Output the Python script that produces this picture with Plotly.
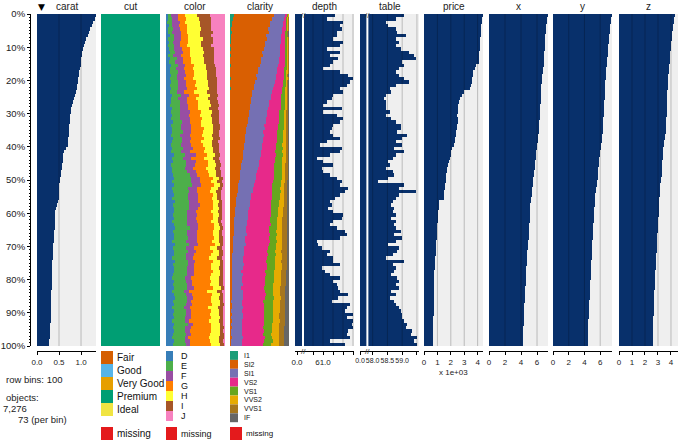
import plotly.graph_objects as go

# ---- data: 100 row bins of the diamonds subset, sorted on carat (descending) ----
carat = [
    1.33, 1.31, 1.27, 1.24, 1.21, 1.18, 1.15, 1.12, 1.09, 1.06, 1.04, 1.03, 1.02, 1.01, 1.00, 0.99, 0.97, 0.96, 0.95, 0.94,
    0.92, 0.91, 0.90, 0.88, 0.86, 0.84, 0.82, 0.80, 0.78, 0.77, 0.76, 0.75, 0.74, 0.73, 0.73, 0.72, 0.72, 0.71, 0.71, 0.70,
    0.65, 0.62, 0.60, 0.59, 0.58, 0.57, 0.56, 0.55, 0.54, 0.53, 0.52, 0.51, 0.51, 0.50, 0.50, 0.49, 0.48, 0.45, 0.43, 0.42,
    0.42, 0.41, 0.41, 0.40, 0.40, 0.39, 0.39, 0.38, 0.38, 0.37, 0.37, 0.36, 0.36, 0.36, 0.35, 0.35, 0.35, 0.34, 0.34, 0.33,
    0.33, 0.33, 0.33, 0.32, 0.32, 0.32, 0.32, 0.32, 0.31, 0.31, 0.31, 0.31, 0.31, 0.30, 0.30, 0.30, 0.30, 0.29, 0.28, 0.27,
]
depth = [
    61.60, 61.18, 62.02, 61.85, 61.93, 61.68, 61.68, 61.52, 62.02, 61.85, 61.18, 61.85, 61.35, 61.77, 61.52, 61.35, 61.02, 61.85, 62.27, 62.52,
    62.35, 62.18, 61.85, 62.02, 61.52, 61.43, 61.18, 61.02, 61.93, 61.02, 61.68, 62.02, 61.85, 61.52, 61.43, 61.35, 61.52, 61.85, 61.18, 60.85,
    61.93, 61.85, 61.35, 60.68, 61.02, 61.52, 60.93, 61.02, 61.35, 61.68, 61.93, 61.85, 62.27, 62.10, 61.85, 61.60, 61.35, 61.43, 61.27, 61.52,
    62.02, 61.93, 61.52, 61.35, 61.68, 62.10, 62.18, 61.85, 60.68, 60.77, 60.93, 61.35, 61.18, 61.52, 61.52, 61.85, 60.93, 61.10, 61.35, 61.85,
    61.52, 61.68, 61.77, 61.85, 62.27, 61.77, 61.43, 62.35, 62.18, 62.10, 62.52, 62.18, 62.52, 62.43, 62.52, 62.27, 62.18, 62.35, 61.35, 62.10,
]
table = [
    59.07, 58.79, 58.46, 58.51, 58.79, 58.84, 59.12, 58.79, 58.90, 58.79, 58.96, 59.23, 59.40, 59.46, 59.01, 59.07, 58.90, 58.79, 58.90, 59.07,
    59.23, 58.79, 58.57, 58.62, 58.46, 58.40, 58.46, 58.46, 58.46, 58.57, 58.46, 58.62, 58.79, 58.96, 58.96, 58.84, 59.18, 59.01, 58.79, 59.01,
    58.73, 59.07, 58.79, 58.68, 58.51, 58.57, 58.46, 58.68, 58.73, 58.51, 58.18, 59.07, 58.90, 59.46, 58.90, 58.79, 58.68, 58.62, 58.73, 58.68,
    58.79, 58.62, 58.79, 58.73, 58.79, 58.96, 58.73, 59.01, 58.79, 58.51, 58.90, 58.84, 58.68, 58.46, 59.07, 58.68, 58.79, 58.73, 58.62, 58.84,
    58.90, 58.79, 58.90, 58.62, 58.79, 58.57, 58.73, 58.79, 58.90, 58.96, 59.01, 59.01, 59.07, 59.18, 59.12, 59.34, 59.29, 59.51, 59.40, 59.51,
]
price = [
    4400, 4350, 4300, 4280, 4260, 4250, 4220, 4200, 4190, 4180, 4150, 4130, 4120, 4100, 4070, 3850, 3800, 3680, 3650, 3600,
    3560, 3500, 3430, 2950, 2800, 2700, 2620, 2550, 2520, 2500, 2480, 2550, 2500, 2450, 2440, 2400, 2350, 2300, 2280, 2250,
    2060, 2020, 1980, 1940, 1880, 1800, 1740, 1700, 1660, 1640, 1620, 1570, 1550, 1520, 1500, 1490, 1140, 1120, 1100, 1070,
    1050, 1030, 1010, 1000, 980, 970, 960, 950, 930, 920, 900, 890, 870, 850, 830, 810, 790, 770, 770, 760,
    760, 750, 750, 750, 740, 740, 730, 730, 720, 720, 710, 700, 700, 700, 690, 690, 680, 680, 670, 650,
]
x_mm = [
    7.33, 7.28, 7.22, 7.16, 7.12, 7.08, 7.05, 7.02, 7.00, 6.98, 6.95, 6.93, 6.90, 6.88, 6.87, 6.83, 6.75, 6.70, 6.65, 6.60,
    6.58, 6.55, 6.53, 6.50, 6.48, 6.46, 6.45, 6.43, 6.40, 6.38, 6.35, 6.33, 6.30, 6.28, 6.25, 6.20, 6.15, 6.12, 6.08, 6.05,
    5.96, 5.92, 5.88, 5.82, 5.78, 5.75, 5.70, 5.64, 5.58, 5.54, 5.50, 5.46, 5.40, 5.36, 5.33, 5.28, 5.20, 5.16, 5.14, 5.12,
    5.10, 5.08, 5.06, 5.04, 5.02, 5.00, 4.98, 4.94, 4.90, 4.86, 4.83, 4.80, 4.78, 4.75, 4.72, 4.70, 4.68, 4.66, 4.64, 4.62,
    4.60, 4.58, 4.55, 4.52, 4.50, 4.48, 4.46, 4.43, 4.40, 4.38, 4.37, 4.35, 4.33, 4.31, 4.29, 4.28, 4.27, 4.25, 4.22, 4.20,
]
y_mm = [
    7.46, 7.40, 7.35, 7.30, 7.25, 7.20, 7.16, 7.12, 7.08, 7.04, 7.00, 6.97, 6.94, 6.92, 6.90, 6.85, 6.80, 6.76, 6.72, 6.70,
    6.67, 6.64, 6.62, 6.60, 6.58, 6.56, 6.53, 6.50, 6.47, 6.44, 6.42, 6.40, 6.38, 6.36, 6.33, 6.30, 6.27, 6.24, 6.20, 6.15,
    6.05, 6.00, 5.95, 5.90, 5.87, 5.82, 5.78, 5.74, 5.70, 5.66, 5.58, 5.54, 5.50, 5.45, 5.40, 5.36, 5.33, 5.30, 5.27, 5.25,
    5.22, 5.19, 5.16, 5.14, 5.12, 5.10, 5.07, 5.04, 5.01, 4.98, 4.95, 4.93, 4.92, 4.90, 4.88, 4.86, 4.84, 4.82, 4.80, 4.78,
    4.76, 4.75, 4.73, 4.70, 4.68, 4.65, 4.62, 4.60, 4.58, 4.56, 4.54, 4.52, 4.50, 4.49, 4.48, 4.47, 4.46, 4.45, 4.43, 4.42,
]
z_mm = [
    4.31, 4.27, 4.22, 4.18, 4.14, 4.10, 4.07, 4.05, 4.03, 4.00, 3.98, 3.96, 3.94, 3.92, 3.90, 3.88, 3.85, 3.82, 3.80, 3.79,
    3.78, 3.76, 3.75, 3.73, 3.72, 3.71, 3.70, 3.69, 3.68, 3.67, 3.66, 3.65, 3.64, 3.63, 3.62, 3.60, 3.56, 3.52, 3.48, 3.45,
    3.41, 3.39, 3.37, 3.35, 3.33, 3.31, 3.30, 3.29, 3.28, 3.26, 3.21, 3.19, 3.17, 3.15, 3.13, 3.11, 3.08, 3.07, 3.06, 3.05,
    3.04, 3.03, 3.02, 3.00, 2.99, 2.97, 2.95, 2.93, 2.92, 2.90, 2.90, 2.89, 2.88, 2.87, 2.86, 2.84, 2.82, 2.80, 2.78, 2.77,
    2.76, 2.75, 2.74, 2.73, 2.72, 2.71, 2.70, 2.69, 2.68, 2.67, 2.66, 2.65, 2.65, 2.64, 2.64, 2.63, 2.62, 2.61, 2.60, 2.59,
]

# cut: every bin is Premium
cut_levels = ["Fair", "Good", "Very Good", "Premium", "Ideal"]
cut_premium = [
    100, 100, 100, 100, 100, 100, 100, 100, 100, 100, 100, 100, 100, 100, 100, 100, 100, 100, 100, 100,
    100, 100, 100, 100, 100, 100, 100, 100, 100, 100, 100, 100, 100, 100, 100, 100, 100, 100, 100, 100,
    100, 100, 100, 100, 100, 100, 100, 100, 100, 100, 100, 100, 100, 100, 100, 100, 100, 100, 100, 100,
    100, 100, 100, 100, 100, 100, 100, 100, 100, 100, 100, 100, 100, 100, 100, 100, 100, 100, 100, 100,
    100, 100, 100, 100, 100, 100, 100, 100, 100, 100, 100, 100, 100, 100, 100, 100, 100, 100, 100, 100,
]

# color: % per bin for D..J
color_levels = ["D", "E", "F", "G", "H", "I", "J"]
color_D = [3, 4, 2, 5, 3, 4, 6, 3, 5, 4, 5, 6, 4, 7, 5, 8, 6, 7, 9, 6,
           8, 7, 9, 6, 10, 8, 9, 7, 11, 9, 10, 8, 12, 9, 11, 10, 8, 12, 10, 9,
           11, 9, 13, 10, 12, 9, 11, 10, 12, 13, 11, 14, 10, 12, 13, 11, 15, 12, 14, 13,
           12, 14, 11, 13, 15, 12, 14, 13, 11, 15, 12, 14, 13, 11, 15, 12, 13, 14, 12, 11,
           13, 12, 14, 11, 13, 15, 12, 13, 11, 14, 12, 13, 11, 14, 12, 13, 12, 11, 13, 12]
color_E = [6, 7, 8, 6, 9, 7, 8, 10, 7, 9, 9, 10, 8, 11, 10, 12, 11, 13, 10, 12,
           12, 14, 11, 13, 15, 12, 14, 16, 13, 15, 14, 16, 15, 17, 14, 18, 16, 15, 17, 16,
           18, 17, 20, 19, 22, 24, 21, 25, 28, 30, 32, 30, 28, 27, 25, 26, 24, 27, 25, 23,
           24, 22, 25, 23, 26, 24, 22, 25, 23, 24, 22, 24, 21, 23, 22, 25, 23, 21, 24, 22,
           21, 23, 22, 20, 22, 21, 23, 22, 20, 21, 22, 20, 21, 23, 21, 20, 22, 21, 20, 22]
color_F = [12, 10, 13, 11, 12, 14, 11, 13, 12, 10, 13, 12, 14, 11, 13, 12, 14, 13, 15, 12,
           14, 13, 15, 12, 14, 16, 13, 15, 14, 16, 15, 17, 14, 16, 18, 15, 17, 16, 14, 17,
           16, 15, 17, 14, 16, 15, 14, 16, 13, 15, 14, 16, 15, 13, 16, 17, 15, 18, 16, 14,
           17, 15, 16, 18, 14, 16, 17, 15, 18, 16, 14, 12, 13, 11, 12, 10, 11, 13, 12, 10,
           10, 9, 11, 8, 10, 9, 8, 10, 9, 8, 8, 9, 7, 8, 9, 7, 8, 6, 8, 7]
color_G = [12, 13, 10, 14, 12, 11, 13, 12, 14, 13, 14, 12, 15, 13, 14, 16, 14, 15, 13, 16,
           17, 15, 18, 16, 17, 15, 18, 16, 17, 19, 18, 20, 19, 17, 21, 19, 20, 22, 18, 20,
           21, 23, 20, 22, 21, 23, 22, 21, 20, 22, 20, 22, 24, 23, 25, 24, 26, 23, 25, 27,
           26, 28, 25, 27, 26, 28, 27, 29, 26, 28, 27, 29, 30, 28, 31, 29, 30, 32, 29, 31,
           32, 30, 33, 31, 34, 32, 33, 35, 32, 34, 33, 35, 34, 32, 35, 36, 33, 35, 34, 36]
color_H = [20, 22, 24, 21, 23, 22, 20, 24, 21, 23, 22, 24, 21, 23, 22, 20, 23, 21, 22, 24,
           21, 22, 20, 23, 19, 21, 20, 22, 18, 19, 19, 17, 18, 20, 16, 18, 17, 15, 19, 16,
           14, 15, 13, 14, 12, 13, 15, 12, 11, 10, 10, 9, 11, 10, 8, 9, 10, 8, 9, 11,
           10, 9, 11, 8, 10, 9, 10, 8, 11, 9, 12, 11, 13, 14, 12, 15, 13, 12, 14, 15,
           14, 15, 13, 16, 14, 13, 15, 14, 16, 15, 15, 14, 16, 15, 14, 15, 16, 17, 15, 14]
color_I = [22, 21, 19, 20, 18, 21, 19, 17, 20, 18, 18, 17, 19, 16, 18, 15, 17, 16, 15, 16,
           15, 16, 14, 17, 13, 15, 14, 13, 15, 12, 13, 12, 11, 12, 11, 10, 12, 11, 10, 12,
           10, 11, 9, 10, 9, 8, 9, 10, 9, 8, 8, 6, 7, 8, 7, 6, 5, 7, 6, 7,
           6, 7, 5, 6, 5, 6, 5, 6, 7, 5, 8, 6, 7, 8, 6, 7, 6, 5, 7, 8,
           7, 8, 6, 9, 7, 8, 6, 7, 9, 8, 8, 7, 9, 6, 8, 7, 8, 9, 7, 8]
color_J = [25, 23, 24, 23, 23, 21, 23, 21, 21, 23, 19, 19, 19, 19, 18, 17, 15, 15, 16, 14,
           13, 13, 13, 13, 12, 13, 12, 11, 12, 10, 11, 10, 11, 9, 9, 10, 10, 9, 12, 10,
           10, 10, 8, 11, 8, 7, 8, 6, 7, 2, 5, 3, 5, 7, 6, 7, 5, 5, 5, 5,
           5, 5, 7, 5, 4, 5, 5, 4, 4, 3, 5, 4, 3, 5, 2, 2, 4, 3, 2, 3,
           3, 3, 1, 5, 2, 2, 3, 1, 3, 2, 2, 2, 2, 2, 1, 2, 1, 1, 3, 1]

# clarity: % per bin for I1..IF
clarity_levels = ["I1", "SI2", "SI1", "VS2", "VS1", "VVS2", "VVS1", "IF"]
clar_I1 = [7, 5, 4, 3, 2, 3, 1, 2, 1, 0, 1, 0, 1, 0, 0, 1, 0, 0, 0, 1,
           0, 0, 1, 0, 0, 0, 0, 0, 0, 0, 0, 0, 0, 0, 0, 0, 0, 0, 0, 0,
           0, 0, 0, 0, 0, 0, 0, 0, 0, 0, 0, 0, 0, 0, 0, 0, 0, 0, 0, 0,
           0, 0, 0, 0, 0, 0, 0, 0, 0, 0, 0, 0, 0, 0, 0, 0, 0, 0, 0, 0,
           0, 0, 0, 0, 0, 0, 0, 0, 0, 0, 0, 0, 0, 0, 0, 0, 0, 0, 0, 0]
clar_SI2 = [68, 66, 64, 65, 62, 63, 60, 61, 58, 59, 57, 55, 56, 53, 52, 50, 48, 47, 45, 44,
            43, 41, 40, 38, 37, 36, 35, 34, 33, 32, 31, 30, 29, 28, 27, 26, 25, 25, 24, 23,
            22, 21, 21, 20, 19, 18, 18, 17, 16, 16, 15, 14, 14, 13, 12, 11, 10, 10, 9, 8,
            8, 7, 7, 7, 6, 6, 6, 5, 5, 5, 5, 5, 4, 4, 4, 4, 4, 3, 4, 3,
            3, 3, 3, 4, 3, 3, 2, 3, 3, 2, 3, 2, 3, 2, 3, 2, 2, 3, 2, 2]
clar_SI1 = [18, 20, 22, 21, 24, 22, 25, 24, 27, 26, 27, 29, 28, 30, 31, 32, 33, 32, 34, 33,
            33, 34, 32, 33, 31, 32, 30, 31, 30, 29, 30, 29, 31, 28, 30, 29, 31, 28, 30, 29,
            30, 28, 29, 27, 28, 29, 27, 28, 28, 27, 27, 26, 25, 26, 24, 25, 23, 24, 22, 23,
            22, 23, 21, 22, 20, 21, 22, 19, 20, 21, 19, 18, 20, 17, 18, 19, 17, 16, 18, 17,
            17, 18, 16, 17, 19, 18, 17, 16, 18, 17, 18, 19, 17, 18, 16, 18, 17, 19, 18, 17]
clar_VS2 = [4, 5, 6, 6, 7, 6, 8, 7, 8, 9, 8, 9, 9, 10, 10, 11, 12, 12, 13, 13,
            14, 14, 16, 17, 18, 18, 19, 20, 21, 21, 21, 22, 21, 23, 22, 23, 22, 24, 23, 22,
            22, 23, 24, 24, 25, 26, 27, 28, 29, 30, 30, 31, 32, 33, 34, 35, 35, 36, 37, 38,
            38, 37, 38, 39, 38, 37, 38, 39, 40, 38, 39, 38, 39, 40, 38, 39, 40, 39, 38, 39,
            38, 37, 38, 36, 37, 38, 36, 37, 35, 36, 36, 35, 36, 37, 35, 36, 35, 36, 37, 35]
clar_VS1 = [2, 2, 2, 3, 3, 3, 3, 3, 3, 3, 4, 4, 4, 4, 4, 4, 5, 5, 5, 5,
            5, 6, 6, 6, 6, 7, 7, 7, 7, 8, 8, 8, 8, 9, 9, 9, 9, 9, 10, 10,
            11, 11, 11, 12, 12, 12, 12, 13, 13, 13, 14, 14, 14, 14, 14, 14, 13, 13, 12, 12,
            12, 11, 12, 11, 13, 12, 11, 12, 11, 12, 13, 14, 13, 14, 14, 13, 14, 15, 14, 14,
            14, 14, 15, 14, 13, 14, 15, 14, 14, 15, 14, 14, 15, 14, 15, 14, 14, 13, 14, 14]
clar_VVS2 = [1, 1, 1, 1, 1, 1, 1, 2, 2, 2, 2, 2, 2, 2, 2, 2, 2, 3, 2, 3,
             3, 3, 3, 3, 4, 3, 4, 4, 4, 4, 4, 5, 4, 5, 5, 5, 5, 5, 5, 6,
             5, 6, 5, 6, 6, 6, 6, 6, 6, 6, 6, 6, 7, 6, 7, 7, 8, 8, 8, 8,
             8, 9, 9, 9, 9, 9, 9, 10, 9, 9, 10, 10, 10, 11, 11, 11, 11, 11, 12, 12,
             12, 12, 11, 12, 11, 12, 12, 12, 12, 11, 11, 11, 11, 12, 11, 11, 12, 11, 11, 12]
clar_VVS1 = [0, 1, 1, 1, 1, 1, 1, 1, 1, 1, 1, 1, 1, 1, 1, 1, 1, 1, 1, 1,
             1, 1, 2, 2, 2, 2, 2, 2, 2, 3, 3, 3, 3, 3, 3, 4, 4, 4, 4, 4,
             4, 4, 4, 4, 4, 5, 5, 5, 5, 5, 5, 6, 6, 6, 6, 6, 7, 7, 7, 7,
             7, 8, 8, 8, 8, 9, 8, 8, 8, 9, 8, 9, 8, 8, 9, 8, 8, 9, 8, 9,
             8, 9, 9, 8, 9, 8, 9, 9, 9, 9, 9, 9, 8, 9, 9, 9, 9, 9, 8, 9]
clar_IF = [0, 0, 0, 0, 0, 1, 1, 0, 0, 0, 0, 0, 0, 0, 0, 0, 0, 0, 1, 0,
           1, 1, 1, 1, 1, 1, 1, 1, 1, 1, 1, 1, 1, 1, 1, 1, 1, 1, 1, 1,
           1, 1, 1, 1, 1, 1, 1, 1, 1, 1, 2, 2, 2, 2, 2, 2, 2, 2, 3, 3,
           3, 3, 3, 3, 3, 3, 3, 3, 3, 3, 4, 4, 4, 4, 4, 4, 4, 5, 5, 5,
           5, 5, 6, 6, 6, 6, 6, 6, 6, 6, 7, 7, 7, 7, 8, 8, 8, 8, 8, 8]

n_bins = 100
n_objects = 7276

# ---- styling ----
W, H = 680, 442
NAVY = "#08306B"
BG = "#EFEFEF"
GRID = "rgba(0,0,0,0.22)"
FONT = "Liberation Sans"
CUT_COLS = ["#D55E00", "#56B4E9", "#E69F00", "#009E73", "#F0E442"]
COLOR_COLS = ["#377EB8", "#4DAF4A", "#984EA3", "#FF7F00", "#FFFF33", "#A65628", "#F781BF"]
CLAR_COLS = ["#1B9E77", "#D95F02", "#7570B3", "#E7298A", "#66A61E", "#E6AB02", "#A6761D", "#666666"]
MISSING = "#E41A1C"

# panel positions in pixels
PANEL_LEFT = [37, 101, 166, 230, 295, 360, 424, 489, 553, 619]
PANEL_W = 59
TOP, BOTTOM, AXIS_Y = 14, 346, 351


def px(x):
    return x / W


def py(y):
    return 1 - y / H


row_pos = [i + 0.5 for i in range(n_bins)]
fig = go.Figure()
shapes, annotations = [], []
layout_axes = {}


def axis_ids(k):
    return ("x" if k == 0 else f"x{k + 1}"), ("xaxis" if k == 0 else f"xaxis{k + 1}")


# numeric columns: (panel, values, range, base, grid, tickvals, ticktext, tick font size, break)
numeric = [
    (0, carat, [0, 1.34], 0, [0.5, 1.0], [0, 0.5, 1.0], ["0.0", "0.5", "1.0"], 8, None),
    (4, depth, [59.6, 62.55], 59.6, [60.5, 61.0, 61.5, 62.0, 62.5],
     [59.7, 60.5, 61.0, 61.5, 62.0, 62.5], ["0.0", "", "61.0", "", "", ""], 8, 60.0),
    (5, table, [57.57, 59.57], 57.57, [58.0, 58.5, 59.0, 59.5],
     [57.57, 58.0, 58.5, 59.0, 59.5], ["0.0", "58.0", "58.5", "59.0", ""], 7, 57.82),
    (6, price, [0, 4400], 0, [1000, 2000, 3000, 4000],
     [0, 1000, 2000, 3000, 4000], ["0", "1", "2", "3", "4"], 8, None),
    (7, x_mm, [0, 7.37], 0, [2, 4, 6], [0, 2, 4, 6], ["0", "2", "4", "6"], 8, None),
    (8, y_mm, [0, 7.5], 0, [2, 4, 6], [0, 2, 4, 6], ["0", "2", "4", "6"], 8, None),
    (9, z_mm, [0, 4.54], 0, [1, 2, 3, 4], [0, 1, 2, 3, 4], ["0", "1", "2", "3", "4"], 8, None),
]

for k, vals, rng, base, grid, tv, tt, fs, brk in numeric:
    xid, xkey = axis_ids(k)
    left = PANEL_LEFT[k]
    layout_axes[xkey] = dict(
        domain=[px(left), px(left + PANEL_W)], range=rng, anchor="free", position=py(AXIS_Y),
        showline=True, linecolor="black", linewidth=1, ticks="outside", ticklen=3,
        tickcolor="black", tickvals=tv, ticktext=tt, tickangle=0, automargin=False,
        tickfont=dict(size=fs, family=FONT, color="#222"), showgrid=False, zeroline=False,
    )
    shapes.append(dict(type="rect", xref=f"{xid} domain", yref="y", x0=0, x1=1, y0=0, y1=100,
                       fillcolor=BG, line=dict(width=0), layer="below"))
    fig.add_trace(go.Bar(
        x=[v - base for v in vals], y=row_pos, base=base, orientation="h", width=1,
        marker=dict(color=NAVY, line=dict(width=0)), xaxis=xid, yaxis="y", hoverinfo="skip",
    ))
    for g in grid:
        shapes.append(dict(type="line", xref=xid, yref="y", x0=g, x1=g, y0=0, y1=100,
                           line=dict(color=GRID, width=1), layer="above"))
    if brk is not None:
        shapes.append(dict(type="line", xref=xid, yref="y", x0=brk, x1=brk, y0=0, y1=100,
                           line=dict(color="white", width=2), layer="above"))
        for yy in (TOP + 2, AXIS_Y):
            annotations.append(dict(text="//", xref=xid, yref="paper", x=brk, y=py(yy),
                                    showarrow=False, font=dict(size=8, family=FONT, color="#333"),
                                    xanchor="center", yanchor="middle"))


# categorical columns
def stacked(k, series, colors):
    xid, xkey = axis_ids(k)
    left = PANEL_LEFT[k]
    layout_axes[xkey] = dict(domain=[px(left), px(left + PANEL_W)], range=[0, 100],
                             anchor="free", position=py(AXIS_Y), visible=False, automargin=False)
    totals = [sum(s[i] for s in series) for i in range(n_bins)]
    cum = [0.0] * n_bins
    for vals, col in zip(series, colors):
        share = [100.0 * v / t for v, t in zip(vals, totals)]
        fig.add_trace(go.Bar(
            x=share, y=row_pos, base=cum[:], orientation="h", width=1,
            marker=dict(color=col, line=dict(width=0)), xaxis=xid, yaxis="y", hoverinfo="skip",
        ))
        cum = [c + s for c, s in zip(cum, share)]


stacked(1, [cut_premium], [CUT_COLS[3]])
stacked(2, [color_D, color_E, color_F, color_G, color_H, color_I, color_J], COLOR_COLS)
stacked(3, [clar_I1, clar_SI2, clar_SI1, clar_VS2, clar_VS1, clar_VVS2, clar_VVS1, clar_IF], CLAR_COLS)

# column headers
headers = ["carat", "cut", "color", "clarity", "depth", "table", "price", "x", "y", "z"]
for k, h in enumerate(headers):
    annotations.append(dict(text=h, xref="paper", yref="paper", x=px(PANEL_LEFT[k] + PANEL_W / 2),
                            y=py(7), showarrow=False, font=dict(size=10, family=FONT, color="#222"),
                            xanchor="center", yanchor="middle"))
annotations.append(dict(text="▼", xref="paper", yref="paper", x=px(41), y=py(7), showarrow=False,
                        font=dict(size=9, family="DejaVu Sans", color="black"),
                        xanchor="center", yanchor="middle"))
annotations.append(dict(text="x 1e+03", xref="paper", yref="paper", x=px(PANEL_LEFT[6] + PANEL_W / 2),
                        y=py(372), showarrow=False, font=dict(size=8, family=FONT, color="#222"),
                        xanchor="center", yanchor="middle"))


# legends under the categorical columns
def legend(x0, sw, top, step, labels, colors, fsize, tx):
    for i, (lab, col) in enumerate(zip(labels, colors)):
        shapes.append(dict(type="rect", xref="paper", yref="paper", x0=px(x0), x1=px(x0 + sw),
                           y0=py(top + i * step), y1=py(top + (i + 1) * step),
                           fillcolor=col, line=dict(width=0)))
        annotations.append(dict(text=lab, xref="paper", yref="paper", x=px(tx),
                                y=py(top + (i + 0.5) * step), showarrow=False,
                                font=dict(size=fsize, family=FONT, color="#111"),
                                xanchor="left", yanchor="middle"))


legend(101, 12, 351, 13, cut_levels, CUT_COLS, 10, 115)
legend(166, 7, 351, 10, color_levels, COLOR_COLS, 9, 179)
legend(230, 8, 351, 8.9, clarity_levels, CLAR_COLS, 7, 242)
legend(101, 12, 427, 13, ["missing"], [MISSING], 10, 115)
legend(166, 11, 427, 13, ["missing"], [MISSING], 9, 179)
legend(230, 12, 427, 13, ["missing"], [MISSING], 8, 244)

# bin info on the left
info = [("row bins: " + str(n_bins), 4, 379), ("objects:", 4, 397),
        (f"{n_objects:,}", 1, 408), (f"{round(n_objects / n_bins)} (per bin)", 16, 419)]
for txt, xx, yy in info:
    annotations.append(dict(text=txt, xref="paper", yref="paper", x=px(xx), y=py(yy), showarrow=False,
                            font=dict(size=9.5, family=FONT, color="#222"),
                            xanchor="left", yanchor="middle"))

fig.update_layout(
    width=W, height=H, margin=dict(l=0, r=0, t=0, b=0, pad=0, autoexpand=False),
    plot_bgcolor="white", paper_bgcolor="white",
    barmode="overlay", bargap=0, showlegend=False,
    yaxis=dict(
        domain=[py(BOTTOM), py(TOP)], range=[100, 0], anchor="free", position=px(30),
        showline=True, linecolor="black", linewidth=1, ticks="outside", ticklen=3,
        tickcolor="black", tickvals=list(range(0, 101, 10)), automargin=False,
        ticktext=[f"{v}%" for v in range(0, 101, 10)],
        tickfont=dict(size=9.5, family=FONT, color="#222"),
        minor=dict(dtick=1, tick0=0, ticks="outside", ticklen=1.5, tickcolor="black"),
        showgrid=False, zeroline=False,
    ),
    shapes=shapes, annotations=annotations,
    **layout_axes,
)

# the page's default 8px body margin would push the 680x442 figure out of the window
fig.write_html("out.html", config={"displayModeBar": False},
               post_script="document.body.style.margin='0px';"
                           "document.body.style.overflow='hidden';")
